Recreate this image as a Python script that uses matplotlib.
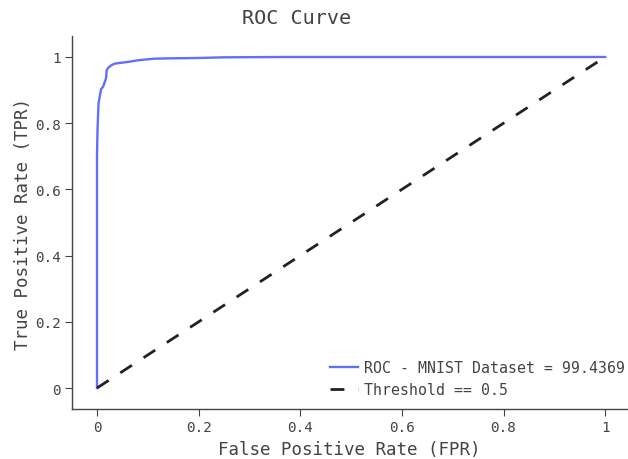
import matplotlib
matplotlib.use("Agg")
import matplotlib.pyplot as plt

# ROC points
fpr = [0, 0, 0.001, 0.003, 0.008, 0.012, 0.016, 0.018, 0.019, 0.022, 0.028,
       0.035, 0.05, 0.065, 0.08, 0.1, 0.114, 0.15, 0.2, 0.25, 0.37, 1.0]
tpr = [0, 0.70, 0.78, 0.86, 0.903, 0.91, 0.928, 0.937, 0.96, 0.967, 0.975,
       0.98, 0.983, 0.986, 0.99, 0.993, 0.995, 0.996, 0.997, 0.999, 1.0, 1.0]
thresh_x = [0, 1]
thresh_y = [0, 1]

roc_label = "ROC - MNIST Dataset = 99.4369"
thresh_label = "Threshold == 0.5"
xticks = [0, 0.2, 0.4, 0.6, 0.8, 1]
yticks = [0, 0.2, 0.4, 0.6, 0.8, 1]
tick_labels = ["0", "0.2", "0.4", "0.6", "0.8", "1"]

plt.rcParams["font.family"] = ["DejaVu Sans Mono"]
txt = "#444444"

fig = plt.figure(figsize=(6.28, 4.6), dpi=100)
ax = fig.add_axes([72/628, 50/460, 555/628, 373/460])

ax.plot(fpr, tpr, color="#636efa", lw=1.7, label=roc_label)
ax.plot(thresh_x, thresh_y, color="#222222", lw=2, dashes=(5, 5), label=thresh_label)

ax.set_xlim(-0.0492, 1.043)
ax.set_ylim(-0.0634, 1.0634)
ax.set_xticks(xticks)
ax.set_xticklabels(tick_labels)
ax.set_yticks(yticks)
ax.set_yticklabels(tick_labels)

for s in ["top", "right"]:
    ax.spines[s].set_visible(False)
for s in ["left", "bottom"]:
    ax.spines[s].set_color(txt)
    ax.spines[s].set_linewidth(1)
ax.tick_params(direction="out", length=5, color=txt, labelcolor=txt, labelsize=10.3, pad=3)

ax.set_xlabel("False Positive Rate (FPR)", fontsize=12.6, color=txt, labelpad=4)
ax.set_ylabel("True Positive Rate (TPR)", fontsize=12.6, color=txt, labelpad=2)
fig.text(297/628, 1 - 18/460, "ROC Curve", fontsize=14.5, color=txt,
         ha="center", va="center")

ax.legend(loc="lower right", bbox_to_anchor=(1.0, 0.0255), frameon=False,
          fontsize=10.7, handlelength=1.9, labelcolor=txt, borderaxespad=0,
          borderpad=0.15, handletextpad=0.4)

fig.savefig("out.png", dpi=100)
